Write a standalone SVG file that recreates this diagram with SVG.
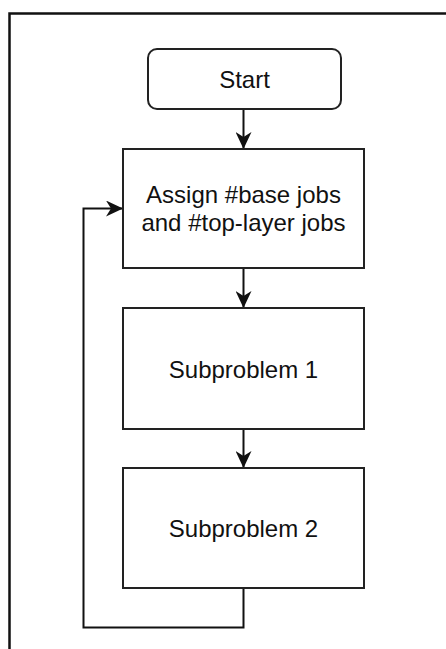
<svg xmlns="http://www.w3.org/2000/svg" width="446" height="649" viewBox="0 0 446 649">
  <style>
    .box { fill: #ffffff; stroke: #222222; stroke-width: 2; }
    .edge { fill: none; stroke: #111111; stroke-width: 2; }
    .frame { fill: none; stroke: #111111; stroke-width: 2.5; }
    .label { font-family: "Liberation Sans", Arial, sans-serif; font-size: 24px; fill: #111111; text-anchor: middle; }
  </style>
  <defs>
    <marker id="arrow" viewBox="0 0 17 16" refX="17" refY="8" markerWidth="17" markerHeight="16" markerUnits="userSpaceOnUse" orient="auto">
      <path d="M0,0 L17,8 L0,16 L5,8 Z" fill="#111111"/>
    </marker>
  </defs>
  <rect width="446" height="649" fill="#ffffff"/>

  <!-- outer frame (top and left edges) -->
  <path class="frame" d="M9.5,649 L9.5,13.5 L446,13.5"/>

  <g id="connectors">
    <path class="edge" d="M243.5,109 L243.5,149" marker-end="url(#arrow)"/>
    <path class="edge" d="M243.5,268 L243.5,308" marker-end="url(#arrow)"/>
    <path class="edge" d="M243.5,429 L243.5,468" marker-end="url(#arrow)"/>
    <path class="edge" d="M243.5,588 L243.5,627.5 L83.5,627.5 L83.5,208.5 L123,208.5" marker-end="url(#arrow)"/>
  </g>

  <g id="start">
    <rect class="box" x="148" y="49" width="193" height="60" rx="9" ry="9"/>
    <text class="label" x="244.5" y="88">Start</text>
  </g>

  <g id="assign">
    <rect class="box" x="123" y="149" width="241" height="119"/>
    <text class="label" x="243.5" y="203">Assign #base jobs</text>
    <text class="label" x="243.5" y="230.5">and #top-layer jobs</text>
  </g>

  <g id="subproblem1">
    <rect class="box" x="123" y="308" width="241" height="121"/>
    <text class="label" x="243.5" y="377.5">Subproblem 1</text>
  </g>

  <g id="subproblem2">
    <rect class="box" x="123" y="468" width="241" height="120"/>
    <text class="label" x="243.5" y="537">Subproblem 2</text>
  </g>
</svg>
